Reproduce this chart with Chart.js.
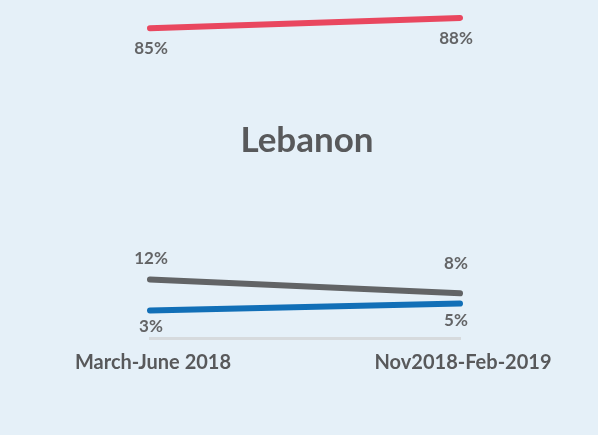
<!DOCTYPE html>
<html>
<head>
<meta charset="utf-8">
<script src="https://cdn.jsdelivr.net/npm/chart.js@4.4.1/dist/chart.umd.min.js"></script>
<style>
    html, body { margin: 0; padding: 0; background: #e5f0f8; }
    #wrap { position: relative; width: 598px; height: 435px; }
    #title {
        position: absolute; left: 8px; top: 117px; width: 598px;
        text-align: center; font-family: Lato, sans-serif; font-weight: bold;
        font-size: 35px; line-height: 42px; color: #58595b;
    }
</style>
</head>
<body>
<div id="wrap">
    <canvas id="chart" width="598" height="435"></canvas>
    <div id="title">Lebanon</div>
</div>
<script>
// Data
const periods = ['March-June 2018', 'Nov2018-Feb-2019'];
const redValues = [85, 88];
const grayValues = [12, 8];
const blueValues = [3, 5];

// Label placement per series (pixel offsets from each point)
const labelOffsets = {
    red:  { dx: [1, -4], dy: [20, 21] },
    gray: { dx: [1, -4], dy: [-21, -30] },
    blue: { dx: [1, -4], dy: [16, 17] }
};

// Draws the value labels next to each point
const valueLabels = {
    id: 'valueLabels',
    afterDatasetsDraw(chart) {
        const ctx = chart.ctx;
        ctx.save();
        ctx.font = 'bold 17px Lato, sans-serif';
        ctx.fillStyle = '#636466';
        ctx.textAlign = 'center';
        ctx.textBaseline = 'middle';
        chart.data.datasets.forEach((ds, i) => {
            const off = labelOffsets[ds.key];
            chart.getDatasetMeta(i).data.forEach((pt, j) => {
                ctx.fillText(ds.data[j] + '%', pt.x + off.dx[j], pt.y + off.dy[j]);
            });
        });
        ctx.restore();
    }
};

const lineStyle = {
    borderWidth: 6,
    borderCapStyle: 'round',
    pointRadius: 0,
    pointHoverRadius: 0,
    tension: 0,
    fill: false
};

new Chart(document.getElementById('chart'), {
    type: 'line',
    data: {
        labels: periods,
        datasets: [
            { key: 'red', label: 'Red', data: redValues, borderColor: '#e9475f', ...lineStyle },
            { key: 'gray', label: 'Gray', data: grayValues, borderColor: '#626466', ...lineStyle },
            { key: 'blue', label: 'Blue', data: blueValues, borderColor: '#116fb7', ...lineStyle }
        ]
    },
    options: {
        responsive: false,
        animation: false,
        layout: { padding: { left: 150, right: 138, top: 11, bottom: 47 } },
        plugins: { legend: { display: false }, tooltip: { enabled: false } },
        scales: {
            x: {
                offset: false,
                grid: { display: false, drawTicks: false },
                border: { display: true, color: '#d6dadd', width: 3 },
                ticks: {
                    padding: 13,
                    labelOffset: 3,
                    color: '#58595b',
                    maxRotation: 0,
                    font: { family: 'Lato', weight: 'bold', size: 20 }
                }
            },
            y: {
                display: false,
                min: -5,
                max: 90
            }
        }
    },
    plugins: [valueLabels]
});
</script>
</body>
</html>
